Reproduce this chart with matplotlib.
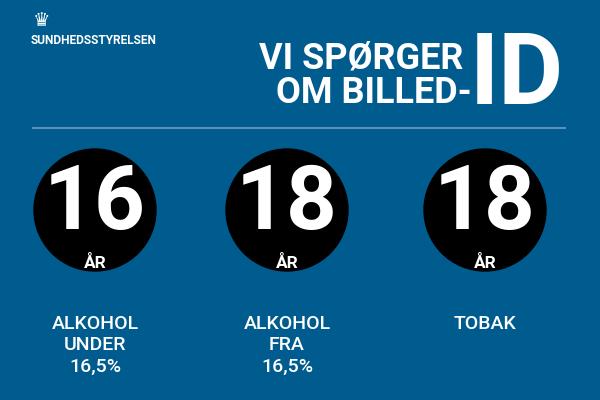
import matplotlib
matplotlib.use("Agg")
import matplotlib.pyplot as plt
from matplotlib.patches import Circle

ages = ["16", "18", "18"]
unit = "ÅR"
labels = ["ALKOHOL\nUNDER\n16,5%", "ALKOHOL\nFRA\n16,5%", "TOBAK"]

BG = "#005b8e"
FONT = ["Roboto", "DejaVu Sans"]
fig = plt.figure(figsize=(6, 4), dpi=100, facecolor=BG)
ax = fig.add_axes([0, 0, 1, 1])
ax.set_xlim(0, 600); ax.set_ylim(400, 0); ax.axis("off")
ax.set_facecolor(BG)

# logo
ax.text(42, 21, "♛", color="white", fontsize=14, ha="center", va="center")
ax.text(31, 41, "SUNDHEDSSTYRELSEN", color="white", fontsize=8.6, fontweight="bold",
        ha="left", va="center", family=FONT)
# title
ax.text(463, 59, "VI SPØRGER", color="white", fontsize=26, fontweight="bold",
        ha="right", va="center", family=FONT)
ax.text(472, 93, "OM BILLED-", color="white", fontsize=26, fontweight="bold",
        ha="right", va="center", family=FONT)
ax.text(470, 76, "ID", color="white", fontsize=72, fontweight="bold",
        ha="left", va="center", family=FONT)
ax.plot([33, 565], [128, 128], color="#5a8fb8", lw=1.5)

xs = [95, 287, 485]
for x, a, l in zip(xs, ages, labels):
    ax.add_patch(Circle((x, 210), 61, color="black"))
    ax.text(x, 204, a, color="white", fontsize=64, fontweight="heavy",
            ha="center", va="center", family=FONT)
    ax.text(x, 263, unit, color="white", fontsize=12.5, fontweight="bold",
            ha="center", va="center", family=FONT)
    ax.text(x, 315, l, color="white", fontsize=14, fontweight="medium",
            ha="center", va="top", family=FONT, linespacing=1.25)
fig.savefig("out.png", dpi=100, facecolor=BG)
